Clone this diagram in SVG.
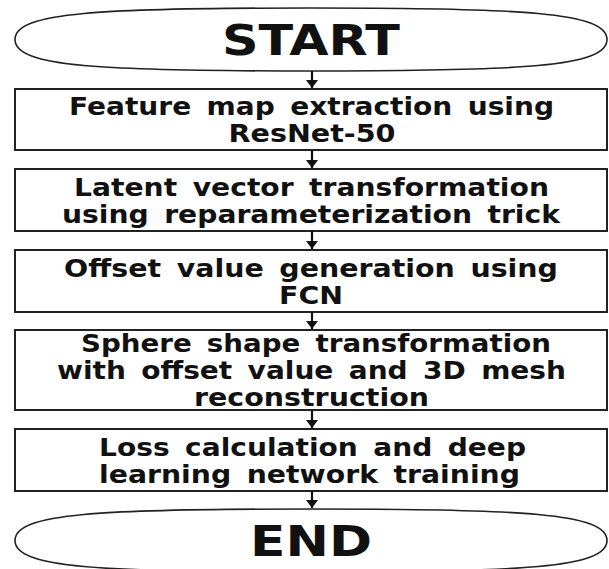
<svg xmlns="http://www.w3.org/2000/svg" width="609" height="569" viewBox="0 0 609 569">
  <defs>
    <marker id="ah" markerUnits="userSpaceOnUse" markerWidth="9" markerHeight="12" refX="8" refY="6" orient="auto">
      <path d="M0,0 L8,6 L0,12 Z" fill="#111"/>
    </marker>
    <style>
      .box { fill: #fff; stroke: #222; stroke-width: 2; }
      .term { fill: #fff; stroke: #222; stroke-width: 1.6; }
      .t { font-family: "DejaVu Sans", "Open Sans", "Liberation Sans", sans-serif; font-weight: 700; font-size: 25px; fill: #111; text-anchor: middle; word-spacing: 5px; }
      .big { font-size: 42px; }
      .arrow { stroke: #111; stroke-width: 2.2; fill: none; marker-end: url(#ah); }
    </style>
  </defs>
  <rect width="609" height="569" fill="#fff"/>

  <g id="start">
    <path class="term" d="M15,39.5 C15,12 100,8 311,8 C522,8 607,12 607,39.5 C607,67 522,71 311,71 C100,71 15,67 15,39.5 Z"/>
    <text class="t big" x="311" y="55" textLength="178" lengthAdjust="spacingAndGlyphs">START</text>
  </g>

  <g id="step1">
    <rect class="box" x="15" y="89" width="592" height="61"/>
    <text class="t" x="311.5" y="115.1" textLength="485" lengthAdjust="spacingAndGlyphs">Feature map extraction using</text>
    <text class="t" x="312" y="142.1" textLength="167" lengthAdjust="spacingAndGlyphs">ResNet-50</text>
  </g>

  <g id="step2">
    <rect class="box" x="15" y="169" width="592" height="62"/>
    <text class="t" x="311.5" y="195.6" textLength="475" lengthAdjust="spacingAndGlyphs">Latent vector transformation</text>
    <text class="t" x="311" y="222.6" textLength="498" lengthAdjust="spacingAndGlyphs">using reparameterization trick</text>
  </g>

  <g id="step3">
    <rect class="box" x="15" y="250" width="592" height="62"/>
    <text class="t" x="311" y="276.6" textLength="494" lengthAdjust="spacingAndGlyphs">Offset value generation using</text>
    <text class="t" x="311" y="303.6" textLength="64" lengthAdjust="spacingAndGlyphs">FCN</text>
  </g>

  <g id="step4">
    <rect class="box" x="15" y="330" width="592" height="80"/>
    <text class="t" x="316" y="352.1" textLength="470" lengthAdjust="spacingAndGlyphs">Sphere shape transformation</text>
    <text class="t" x="311.5" y="379.1" textLength="509" lengthAdjust="spacingAndGlyphs">with offset value and 3D mesh</text>
    <text class="t" x="311.5" y="406.1" textLength="235" lengthAdjust="spacingAndGlyphs">reconstruction</text>
  </g>

  <g id="step5">
    <rect class="box" x="15" y="429" width="592" height="62"/>
    <text class="t" x="312.5" y="455.6" textLength="427" lengthAdjust="spacingAndGlyphs">Loss calculation and deep</text>
    <text class="t" x="309.5" y="482.6" textLength="421" lengthAdjust="spacingAndGlyphs">learning network training</text>
  </g>

  <g id="end">
    <path class="term" d="M15,540.5 C15,513 100,509 311,509 C522,509 607,513 607,540.5 C607,568 522,572 311,572 C100,572 15,568 15,540.5 Z"/>
    <text class="t big" x="311" y="556" textLength="122" lengthAdjust="spacingAndGlyphs">END</text>
  </g>

  <g id="connectors">
    <line class="arrow" x1="312" y1="71" x2="312" y2="88"/>
    <line class="arrow" x1="312" y1="150" x2="312" y2="168"/>
    <line class="arrow" x1="312" y1="231" x2="312" y2="249"/>
    <line class="arrow" x1="312" y1="312" x2="312" y2="329"/>
    <line class="arrow" x1="312" y1="410" x2="312" y2="428"/>
    <line class="arrow" x1="312" y1="491" x2="312" y2="508"/>
  </g>
</svg>
